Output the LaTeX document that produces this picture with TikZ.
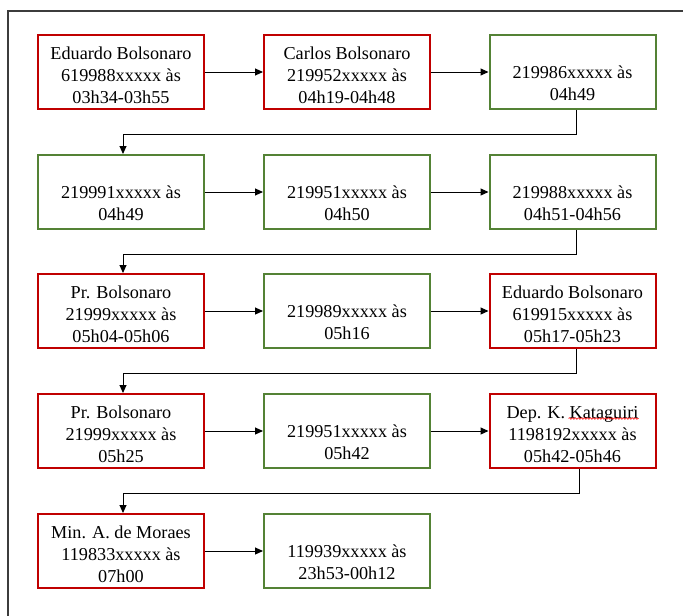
\documentclass[tikz,border=0pt]{standalone}
\usepackage{fontspec}
\setmainfont{Liberation Serif}
\usetikzlibrary{arrows.meta,calc,decorations.pathmorphing}
\definecolor{redb}{RGB}{192,0,0}
\definecolor{greenb}{RGB}{84,130,53}
\definecolor{framec}{RGB}{60,60,60}
\newcommand\rtop{\rule{0pt}{19pt}}
\newcommand\gtop{\rule{0pt}{14pt}}
\begin{document}
\begin{tikzpicture}[x=1pt,y=-1pt,
  box/.style={draw,line width=2pt,fill=white,minimum width=166pt,minimum height=74pt,
    align=center,inner sep=0pt,font=\fontsize{18.2}{22}\selectfont},
  redbox/.style={box,draw=redb},
  greenbox/.style={box,draw=greenb},
  conn/.style={line width=1pt,-{Triangle[length=8pt,width=7pt]}}]
\useasboundingbox (0,0) rectangle (683,616);
\fill[white] (0,0) rectangle (683,616);
\draw[framec,line width=1.5pt] (683,11) -- (8,11) -- (8,616);

% row 1
\node[redbox] (a1) at (121,72) {\rtop Eduardo Bolsonaro\\619988xxxxx às\\03h34-03h55};
\node[redbox] (a2) at (347,72) {\rtop Carlos Bolsonaro\\219952xxxxx às\\04h19-04h48};
\node[greenbox] (a3) at (572.5,72) {\gtop\\219986xxxxx às\\04h49};
% row 2
\node[greenbox] (b1) at (121,192) {\gtop\\219991xxxxx às\\04h49};
\node[greenbox] (b2) at (347,192) {\gtop\\219951xxxxx às\\04h50};
\node[greenbox] (b3) at (572.5,192) {\gtop\\219988xxxxx às\\04h51-04h56};
% row 3
\node[redbox] (c1) at (121,311) {\rtop Pr. Bolsonaro\\21999xxxxx às\\05h04-05h06};
\node[greenbox] (c2) at (347,311) {\gtop\\219989xxxxx às\\05h16};
\node[redbox] (c3) at (572.5,311) {\rtop Eduardo Bolsonaro\\619915xxxxx às\\05h17-05h23};
% row 4
\node[redbox] (d1) at (121,431) {\rtop Pr. Bolsonaro\\21999xxxxx às\\05h25};
\node[greenbox] (d2) at (347,431) {\gtop\\219951xxxxx às\\05h42};
\node[redbox] (d3) at (572.5,431) {\rtop Dep. K. Kataguiri\\1198192xxxxx às\\05h42-05h46};
% row 5
\node[redbox] (e1) at (121,551) {\rtop Min. A. de Moraes\\119833xxxxx às\\07h00};
\node[greenbox] (e2) at (347,551) {\gtop\\119939xxxxx às\\23h53-00h12};

% spell-check squiggle under Kataguiri
\draw[red,line width=0.6pt,decorate,decoration={snake,amplitude=0.8pt,segment length=3pt}]
  ($(d3.center)+(-4,-12.5)$) -- ($(d3.center)+(66,-12.5)$);

% horizontal arrows
\foreach \p/\q in {a1/a2,a2/a3,b1/b2,b2/b3,c1/c2,c2/c3,d1/d2,d2/d3,e1/e2}
  \draw[conn] (\p.east) -- (\q.west);

% elbow connectors
\coordinate (ka) at ($(a3.south)+(3.5,0)$);
\coordinate (kb) at ($(b3.south)+(3.5,0)$);
\coordinate (kc) at ($(c3.south)+(3.5,0)$);
\coordinate (kd) at ($(d3.south)+(7,0)$);
\draw[conn] (ka) -- ++(0,24) -| ($(b1.north)+(2,0)$);
\draw[conn] (kb) -- ++(0,24) -| ($(c1.north)+(2,0)$);
\draw[conn] (kc) -- ++(0,24) -| ($(d1.north)+(2,0)$);
\draw[conn] (kd) -- ++(0,24) -| ($(e1.north)+(2,0)$);
\end{tikzpicture}
\end{document}
